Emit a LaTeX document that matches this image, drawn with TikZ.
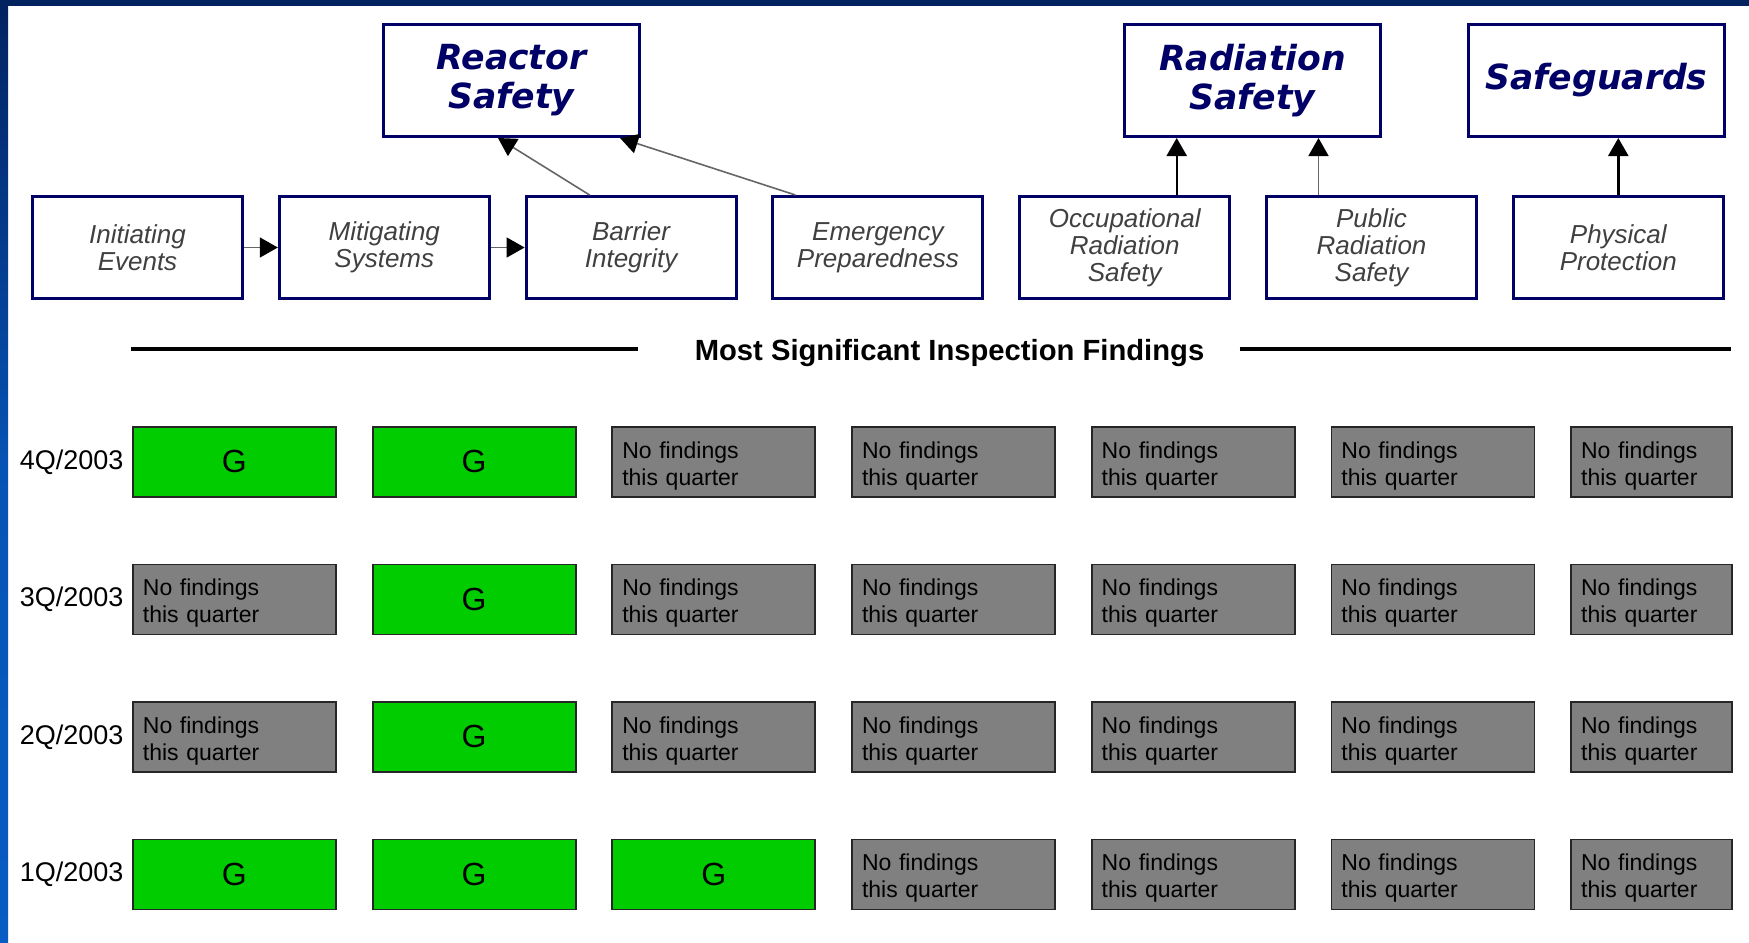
\documentclass[tikz,border=0pt]{standalone}
\usepackage{fontspec}
\setmainfont{Liberation Sans}
\newfontfamily\verdfont{DejaVu Sans}
\usetikzlibrary{matrix,
	calc,
	positioning,
	arrows.meta}
\definecolor{navy}{RGB}{0,0,102}
\definecolor{bartop}{RGB}{2,34,96}
\definecolor{barlow}{RGB}{8,92,196}
\definecolor{pigreen}{RGB}{0,204,0}
\definecolor{pigray}{RGB}{128,128,128}
\tikzstyle{area}=[draw=navy, line width=1.5pt, fill=white, inner sep=0,
		minimum width=128pt, minimum height=56pt, align=center, text=navy,
		font=\verdfont\bfseries\itshape\fontsize{17.3}{19.5}\selectfont]
\tikzstyle{cs}=[draw=navy, line width=1.5pt, fill=white, inner sep=0,
		minimum width=105pt, minimum height=51pt, align=center, text=black!75,
		font=\itshape\fontsize{13}{13.5}\selectfont]
\tikzstyle{gr}=[draw=black!85, line width=0.9pt, fill=pigreen, inner sep=0,
		minimum width=101.5pt, minimum height=35pt, font=\fontsize{16}{18}\selectfont]
\tikzstyle{nf}=[draw=black!85, line width=0.9pt, fill=pigray, inner xsep=5pt,
		inner ysep=0, text width=91.5pt, minimum height=35pt, align=left,
		font=\fontsize{11.5}{13.5}\selectfont]
\tikzstyle{nfcut}=[nf, text width=70.5pt]
\tikzstyle{ql}=[inner sep=0, font=\fontsize{13.5}{15}\selectfont]
\tikzstyle{hd}=[inner sep=0, font=\bfseries\fontsize{14.6}{16}\selectfont]
\tikzstyle{rule}=[line width=1.6pt]
\tikzstyle{link}=[draw=black!60, line width=0.8pt, -{Triangle[length=9pt, width=10pt, color=black]}]
\tikzstyle{feed}=[draw=black, line width=1.2pt, -{Triangle[length=9pt, width=10pt]}]
\newcommand{\nofind}{\rule{0pt}{12pt}No findings\\this quarter}

\begin{document}
\begin{tikzpicture}[x=0.5pt, y=-0.5pt]
        \useasboundingbox (0,0) rectangle (1749,942);
        \fill[white] (0,0) rectangle (1749,942);
        \shade[top color=bartop, bottom color=barlow, middle color=barlow!85!bartop] (0,0) rectangle (8,942);
        \fill[bartop] (0,0) rectangle (1749,6);
        % cornerstones
        \node[cs, anchor=north west] (ie) at (31,195) {Initiating\\Events};
        \node[cs, right=16.9pt of ie] (ms) {Mitigating\\Systems};
        \node[cs, right=16.9pt of ms] (bi) {Barrier\\Integrity};
        \node[cs, right=16.9pt of bi] (ep) {Emergency\\Preparedness};
        \node[cs, right=16.9pt of ep] (ors) {Occupational\\Radiation\\Safety};
        \node[cs, right=16.9pt of ors] (prs) {Public\\Radiation\\Safety};
        \node[cs, right=16.9pt of prs] (pp) {Physical\\Protection};
        % strategic areas
        \node[area, anchor=north west] (rsafe) at (382,23) {Reactor\\Safety};
        \node[area, anchor=north west] (radsafe) at (1123,23) {Radiation\\Safety};
        \node[area, anchor=north west] (guards) at (1467,23) {Safeguards};
        \draw[link] (ie) -- (ms);
        \draw[link] (ms) -- (bi);
        \draw[link] ($(bi.north west)+(65,0)$) -- ($(rsafe.south west)+(116,0)$);
        \draw[link] ($(ep.north west)+(24,0)$) -- ($(rsafe.south west)+(238,0)$);
        \draw[feed] (ors.north) ++(52,0) coordinate (o1) -- (o1 |- radsafe.south);
        \draw[link] (prs.north) ++(-53,0) coordinate (p1) -- (p1 |- radsafe.south);
        \draw[feed] (pp.north) -- (pp.north |- guards.south);
        % findings
        \node[hd] (hdr) at (949.5,353) {Most Significant Inspection Findings};
        \coordinate (rl) at (131,349);
        \coordinate (rr) at (1731,349);
        \draw[rule] (rl) -- ($(rl -| hdr.west)+(-56,0)$);
        \draw[rule] ($(hdr.east |- rr)+(35,0)$) -- (rr);
        \matrix (grid) [anchor=north west, inner sep=0, outer sep=0, column sep=17.45pt,
		row sep=32.85pt, ampersand replacement=\&] at (132,426) {
            \node[gr] (g4) {G}; \& \node[gr] {G}; \& \node[nf] {\nofind}; \& \node[nf] {\nofind}; \& \node[nf] {\nofind}; \& \node[nf] {\nofind}; \& \node[nfcut] {\nofind}; \\
            \node[nf] (g3) {\nofind}; \& \node[gr] {G}; \& \node[nf] {\nofind}; \& \node[nf] {\nofind}; \& \node[nf] {\nofind}; \& \node[nf] {\nofind}; \& \node[nfcut] {\nofind}; \\
            \node[nf] (g2) {\nofind}; \& \node[gr] {G}; \& \node[nf] {\nofind}; \& \node[nf] {\nofind}; \& \node[nf] {\nofind}; \& \node[nf] {\nofind}; \& \node[nfcut] {\nofind}; \\
            \node[gr] (g1) {G}; \& \node[gr] {G}; \& \node[gr] {G}; \& \node[nf] {\nofind}; \& \node[nf] {\nofind}; \& \node[nf] {\nofind}; \& \node[nfcut] {\nofind}; \\
        };
        \node[ql, left=4.5pt of g4] (q4) {4Q/2003};
        \node[ql, left=4.5pt of g3] (q3) {3Q/2003};
        \node[ql, left=4.5pt of g2] (q2) {2Q/2003};
        \node[ql, left=4.5pt of g1] (q1) {1Q/2003};
    \end{tikzpicture}
\end{document}
